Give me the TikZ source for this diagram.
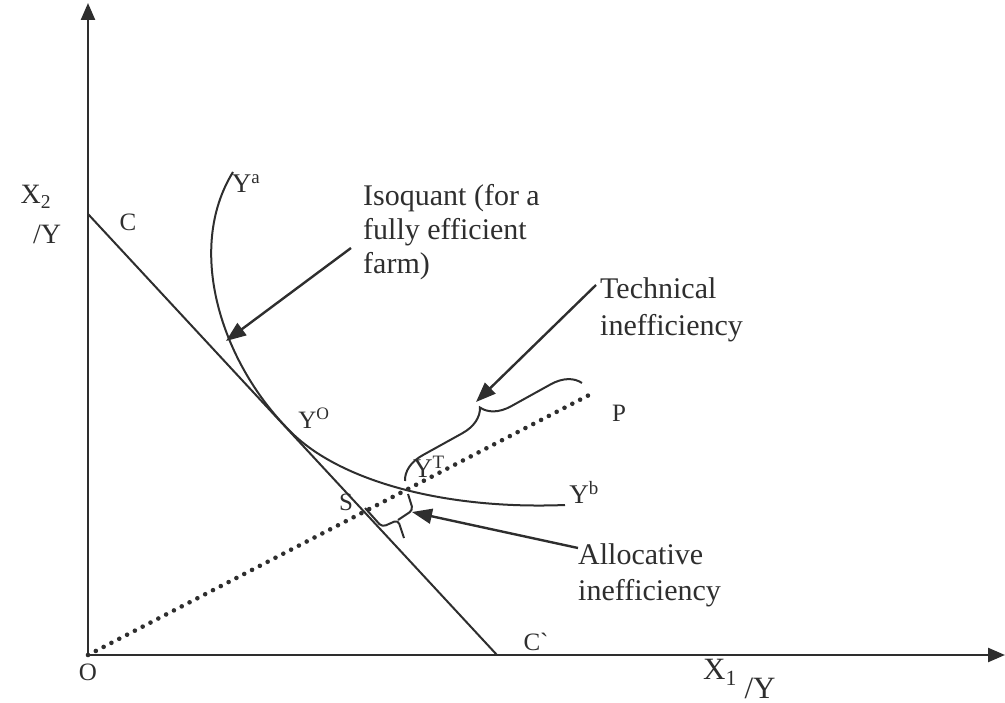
\documentclass[tikz,border=0pt]{standalone}
\usepackage{fontspec}
\setmainfont{Liberation Serif}
\usetikzlibrary{arrows.meta,decorations.pathreplacing}
\definecolor{ink}{HTML}{2E2E2E}
\begin{document}
\begin{tikzpicture}[x=1pt,y=-1pt,
  axis/.style={draw=ink, line width=2.4pt, -{Triangle[length=17pt,width=14pt]}},
  curve/.style={draw=ink, line width=2pt},
  dotline/.style={draw=ink, line width=4.6pt, line cap=round, dash pattern=on 0pt off 8.8pt},
  pointer/.style={draw=ink, line width=2.4pt, -{Triangle[length=20pt,width=15pt]}},
  lab/.style={text=ink, font=\fontsize{25}{28}\selectfont, inner sep=0pt},
  biglab/.style={text=ink, font=\fontsize{31}{34}\selectfont, inner sep=0pt},
  note/.style={text=ink, font=\fontsize{30}{34}\selectfont, inner sep=0pt, align=left, anchor=north west}
]
\useasboundingbox (0,0) rectangle (1005,703);

% key points
\coordinate (O) at (88,655);
\coordinate (Ytop) at (88,3);
\coordinate (Xend) at (1005,655);
\coordinate (C) at (88,214);
\coordinate (Cp) at (497,655);
\coordinate (P) at (593,393);
\coordinate (Ya) at (233,172);
\coordinate (T) at (288,429);
\coordinate (Yb) at (565,505);

% axes
\draw[axis] (O) -- (Ytop);
\draw[axis] (O) -- (Xend);

% iso-cost line and ray
\draw[curve] (C) -- (Cp);
\draw[dotline] (O) -- (P);

% isoquant
\draw[curve] (Ya) .. controls (185,250) and (222,362) .. (T)
                  .. controls (335,479) and (440,510) .. (Yb);

% technical inefficiency brace
\draw[curve, decorate, decoration={brace, amplitude=28pt}] (405,481) -- (582,383);

% allocative inefficiency brace
\draw[curve, rounded corners=4pt] (365,508) -- (382,527) -- (398,520) -- (404,538);
\draw[curve, rounded corners=4pt] (398,520) -- (413,510) -- (408,494);

% labels
\node[lab] (labO) at (88,672) {O};
\node[lab] (labC) at (128,222) {C};
\node[lab] (labCp) at (536,642) {C\textasciigrave};
\node[lab] (labP) at (619,413) {P};
\node[lab] (labS) at (346,502) {S};
\node[lab, font=\fontsize{27}{30}\selectfont] (labYa) at (246,184) {Y\textsuperscript{a}};
\node[lab] (labYO) at (314,418) {Y\textsuperscript{O}};
\node[lab, font=\fontsize{27}{30}\selectfont] (labYT) at (429,467) {Y\textsuperscript{T}};
\node[lab, font=\fontsize{27}{30}\selectfont] (labYb) at (584,492) {Y\textsuperscript{b}};
\node[lab, font=\fontsize{28}{30}\selectfont] (labX2) at (36,197) {X\textsubscript{2}};
\node[lab, font=\fontsize{28}{30}\selectfont] (labY2) at (47,234) {/Y};
\node[biglab] (labX1) at (720,672) {X\textsubscript{1}};
\node[biglab] (labY1) at (760,688) {/Y};

% notes
\node[note] (noteIso) at (363,184) {Isoquant (for a\\fully efficient\\farm)};
\node[note, font=\fontsize{30}{37}\selectfont] (noteTech) at (600,277) {Technical\\inefficiency};
\node[note, font=\fontsize{30}{36}\selectfont] (noteAlloc) at (578,543) {Allocative\\inefficiency};

% pointers
\coordinate (isoTail) at (351,248);
\coordinate (isoTip) at (226,341);
\coordinate (techTail) at (596,285);
\coordinate (techTip) at (476,402);
\coordinate (allocTail) at (578,548);
\coordinate (allocTip) at (412,512);
\draw[pointer] (isoTail) -- (isoTip);
\draw[pointer] (techTail) -- (techTip);
\draw[pointer] (allocTail) -- (allocTip);
\end{tikzpicture}
\end{document}
